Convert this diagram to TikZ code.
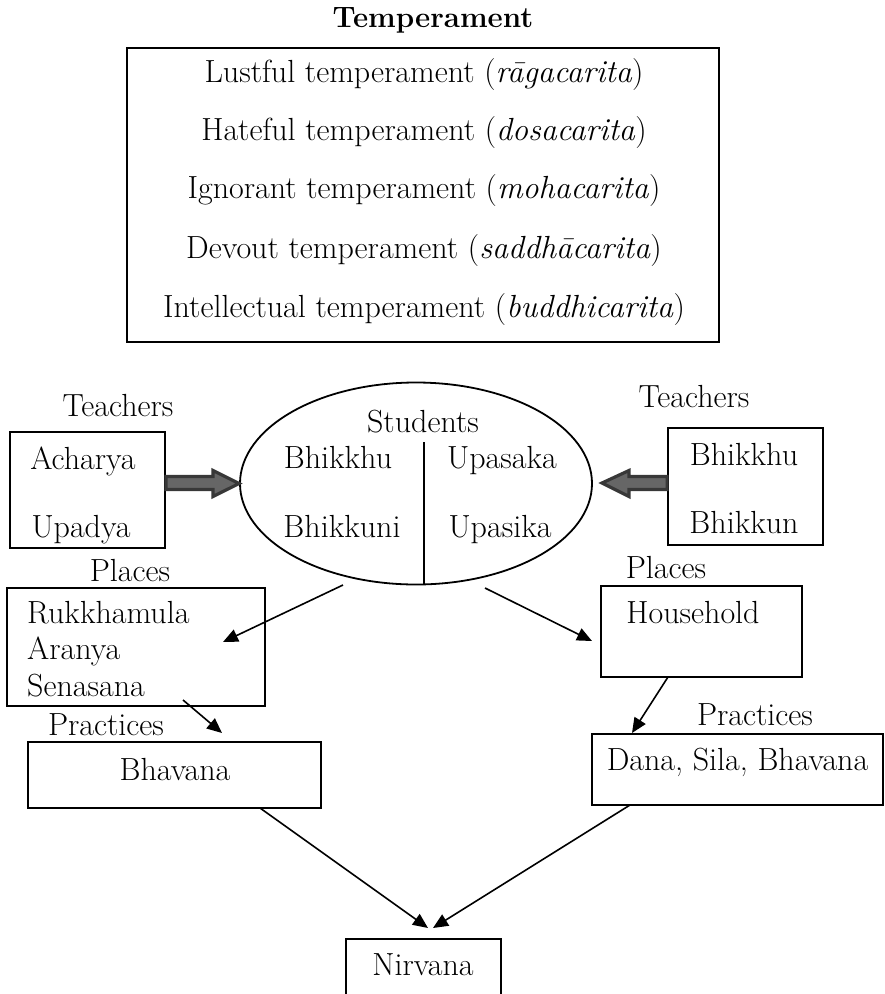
\documentclass[tikz,border=0pt]{standalone}
\usepackage{fontspec}
\usetikzlibrary{shapes.geometric,arrows.meta}
\begin{document}
\begin{tikzpicture}[x=1pt,y=-1pt,
  every node/.style={font=\fontsize{32}{38}\selectfont},
  box/.style={draw, line width=1.8pt, inner sep=0pt},
  txt/.style={anchor=base, inner sep=0pt},
  txtl/.style={anchor=base west, inner sep=0pt},
  thin arrow/.style={line width=1.6pt, -{Triangle[length=15pt,width=13pt]}},
  fat arrow/.style={draw=black!78, fill=black!60, line width=3.2pt, line join=miter}
]
\useasboundingbox (0,0) rectangle (885,994);
\fill[white] (0,0) rectangle (885,994);

% Temperament
\node[txt, font=\fontsize{29.5}{34}\selectfont\bfseries] (temptitle) at (433,27) {Temperament};
\node[box, minimum width=592pt, minimum height=294pt] (tempbox) at (423,195) {};
\node[txt] (t1) at (424,82) {Lustful temperament (\textit{rāgacarita})};
\node[txt] (t2) at (424,140) {Hateful temperament (\textit{dosacarita})};
\node[txt] (t3) at (424,198) {Ignorant temperament (\textit{mohacarita})};
\node[txt] (t4) at (424,258) {Devout temperament (\textit{saddhācarita})};
\node[txt] (t5) at (424,317) {Intellectual temperament (\textit{buddhicarita})};

% Teachers left
\node[txt] (teachl) at (118,416) {Teachers};
\node[box, minimum width=155pt, minimum height=116pt] (tl) at (87.5,490) {};
\node[txt] (ach) at (83,469) {Acharya};
\node[txt] (upa) at (81,537) {Upadya};

% Teachers right
\node[txt] (teachr) at (694,407) {Teachers};
\node[box, minimum width=155pt, minimum height=117pt] (tr) at (745.5,486.5) {};
\node[txt] (bhr) at (744,465) {Bhikkhu};
\node[txt] (bnr) at (744,533) {Bhikkun};

% Students ellipse
\node[draw, ellipse, line width=1.8pt, minimum width=352pt, minimum height=202pt, inner sep=0pt] (stud) at (416,483.5) {};
\node[txt] (studt) at (423,432) {Students};
\node[txt] (s1) at (338,468) {Bhikkhu};
\node[txt] (s2) at (502,468) {Upasaka};
\node[txt] (s3) at (342,537) {Bhikkuni};
\node[txt] (s4) at (500,537) {Upasika};
\coordinate (divtop) at (424,442);
\coordinate (divbot) at (424,584.5);
\draw[line width=1.6pt] (divtop) -- (divbot);

% fat arrows
\draw[fat arrow] (tl.east |- 0,476.5) -- (213,476.5) -- (213,470.5) -- (stud.west) -- (213,496.5) -- (213,489.5) -- (tl.east |- 0,489.5) -- cycle;
\draw[fat arrow] (tr.west |- 0,476.5) -- (629,476.5) -- (629,470.5) -- (602,483) -- (629,496.5) -- (629,489.5) -- (tr.west |- 0,489.5) -- cycle;

% Places left
\node[txt] (placl) at (130,581) {Places};
\node[box, minimum width=258pt, minimum height=118pt] (pl) at (136,647) {};
\node[txtl] (rk) at (27,623) {Rukkhamula};
\node[txtl] (ar) at (27,659) {Aranya};
\node[txtl] (se) at (27,696) {Senasana};

% Places right
\node[txt] (placr) at (666,578) {Places};
\node[box, minimum width=201pt, minimum height=91pt] (pr) at (701.5,631.5) {};
\node[txt] (hh) at (693,623) {Household};

% Practices left
\node[txt] (pracl) at (106,735) {Practices};
\node[box, minimum width=293pt, minimum height=66pt] (ql) at (174.5,775) {};
\node[txt] (bhav) at (175,780) {Bhavana};

% Practices right
\node[txt] (pracr) at (755,725) {Practices};
\node[box, minimum width=291pt, minimum height=71pt] (qr) at (737.5,769.5) {};
\node[txt] (dana) at (737.5,770) {Dana, Sila, Bhavana};

% Nirvana
\node[box, minimum width=155pt, minimum height=64pt] (nirv) at (423.5,971) {};
\node[txt] (nirt) at (423,975) {Nirvana};

% thin arrows
\coordinate (a1s) at (343,585);  \coordinate (a1e) at (223,642);
\coordinate (a2s) at (485,588);  \coordinate (a2e) at (592,641);
\coordinate (a3s) at (183,700);  \coordinate (a3e) at (222,733);
\coordinate (a4s) at (668,677);  \coordinate (a4e) at (632,733);
\coordinate (a5s) at (260,808);  \coordinate (a5e) at (428,928);
\coordinate (a6s) at (630,805);  \coordinate (a6e) at (433,928);
\draw[thin arrow] (a1s) -- (a1e);
\draw[thin arrow] (a2s) -- (a2e);
\draw[thin arrow] (a3s) -- (a3e);
\draw[thin arrow] (a4s) -- (a4e);
\draw[thin arrow] (a5s) -- (a5e);
\draw[thin arrow] (a6s) -- (a6e);
\end{tikzpicture}
\end{document}
